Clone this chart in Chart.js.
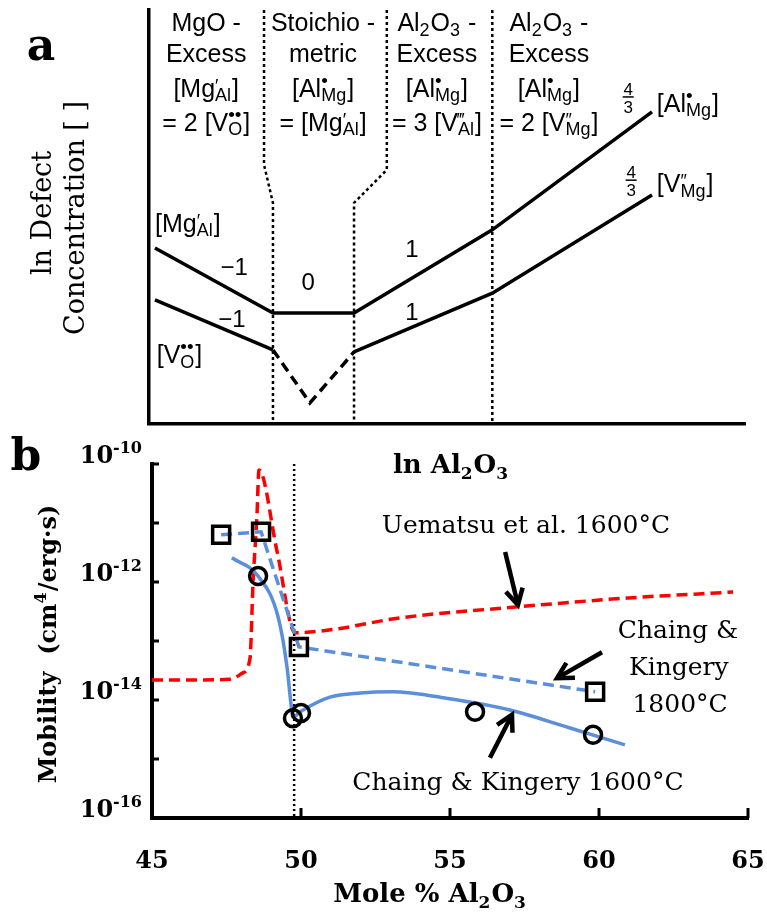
<!DOCTYPE html>
<html lang="en">
<head>
<meta charset="UTF-8">
<title>Spinel defect chemistry and mobility</title>
<script src="https://cdn.jsdelivr.net/npm/chart.js"></script>
<style>
  html, body { margin: 0; padding: 0; background: #fff; }
  .wrap { position: relative; width: 767px; height: 912px; }
  .wrap canvas { position: absolute; left: 0; top: 0; }
</style>
</head>
<body>
<div class="wrap">
  <canvas id="defectChart" width="767" height="912"></canvas>
  <canvas id="mobilityChart" width="767" height="912"></canvas>
</div>
<script>
// ---------- panel a: schematic defect diagram (arbitrary 0-100 units) ----------
const mgAlX = [1.0, 20.8, 34.4, 57.6, 84.4];
const mgAlY = [42.5, 26.8, 26.8, 46.9, 75.4];
const vOX = [1.0, 20.8, 27.0, 34.4, 57.6, 84.4];
const vOY = [30.0, 17.9, 5.1, 17.4, 31.6, 55.3];
const regionX = [[19.3, 19.3, 20.8, 20.8], [39.9, 39.9, 34.4, 34.4], [57.6, 57.6]];
const regionY = [[100, 62.6, 53.4, 0], [100, 61.4, 53.4, 0], [100, 0]];

// ---------- panel b: mobility vs composition (log10 of cm4/erg.s) ----------
const uematsuX = [45, 46.5, 47.6, 48.05, 48.29, 48.39, 48.52, 48.59, 49.2, 49.8, 51.0, 53.3, 57.3, 61.0, 64.5];
const uematsuLog = [-13.66, -13.66, -13.65, -13.54, -13.29, -12.02, -10.9, -10.1, -11.49, -12.86, -12.81, -12.61, -12.42, -12.27, -12.17];
const ck1800X = [47.32, 48.66, 49.93, 59.87];
const ck1800Log = [-11.20, -11.15, -13.10, -13.86];
const ck1600FitX = [47.68, 48.56, 49.23, 49.53, 49.66, 49.73, 49.97, 50.97, 52.0, 53.05, 55.0, 57.01, 59.0, 60.87];
const ck1600FitLog = [-11.59, -11.90, -12.59, -13.44, -14.05, -14.29, -14.20, -13.95, -13.88, -13.86, -13.98, -14.17, -14.47, -14.76];
const ck1600X = [48.56, 49.73, 50.00, 55.84, 59.80];
const ck1600Log = [-11.90, -14.31, -14.22, -14.20, -14.59];
const stoichX = 49.77;
const xTicks = [45, 50, 55, 60, 65];
const yDecades = [-10, -11, -12, -13, -14, -15, -16];
const yLabelDecades = [-10, -12, -14, -16];

const sansFamily = '"Liberation Sans", Arial, "DejaVu Sans", sans-serif';
const serifFamily = '"DejaVu Serif", serif';
const redColor = '#ff0000';
const blueColor = '#5b8fd9';

const pts = (xs, ys) => xs.map((x, i) => ({ x: x, y: ys[i] }));
const logPts = (xs, ls) => xs.map((x, i) => ({ x: x, y: Math.pow(10, ls[i]) }));

// ---------- rich text: plain strings or {b, sup, sub} stacked pieces ----------
function fontStr(f, size) { return (f.weight || 'normal') + ' ' + size + 'px ' + f.family; }
function supSize(f, s) { return /•/.test(s) ? f.small * 1.05 : f.small; }
function supRise(s) { return /•/.test(s) ? 0.4 : /[′″‴]/.test(s) ? 0.2 : 0.4; }
function measureRich(ctx, segs, f) {
  let w = 0;
  segs.forEach(s => {
    ctx.font = fontStr(f, f.size);
    if (typeof s === 'string') { w += ctx.measureText(s).width; return; }
    if (s.b) w += ctx.measureText(s.b).width;
    let a = 0, b = 0;
    if (s.sup) { ctx.font = fontStr(f, supSize(f, s.sup)); a = ctx.measureText(s.sup).width; }
    if (s.sub) { ctx.font = fontStr(f, f.small); b = ctx.measureText(s.sub).width; }
    w += Math.max(a, b) + 1;
  });
  return w;
}
function drawRich(ctx, segs, x, y, f, align) {
  const w = measureRich(ctx, segs, f);
  let cx = align === 'center' ? x - w / 2 : align === 'right' ? x - w : x;
  ctx.textAlign = 'left';
  ctx.textBaseline = 'alphabetic';
  ctx.fillStyle = '#000';
  segs.forEach(s => {
    ctx.font = fontStr(f, f.size);
    if (typeof s === 'string') { ctx.fillText(s, cx, y); cx += ctx.measureText(s).width; return; }
    if (s.b) { ctx.fillText(s.b, cx, y); cx += ctx.measureText(s.b).width; }
    let a = 0, b = 0;
    if (s.sup) {
      ctx.font = fontStr(f, supSize(f, s.sup));
      ctx.fillText(s.sup, cx, y - f.size * supRise(s.sup));
      a = ctx.measureText(s.sup).width;
    }
    if (s.sub) {
      ctx.font = fontStr(f, f.small);
      ctx.fillText(s.sub, cx, y + f.size * (f.subDrop || 0.18));
      b = ctx.measureText(s.sub).width;
    }
    cx += Math.max(a, b) + 1;
  });
}
function drawRotated(ctx, segs, x, y, f) {
  ctx.save();
  ctx.translate(x, y);
  ctx.rotate(-Math.PI / 2);
  drawRich(ctx, segs, 0, 0, f, 'center');
  ctx.restore();
}

// Kröger-Vink species
const spMgAl = { b: 'Mg', sup: '′', sub: 'Al' };
const spAlMg = { b: 'Al', sup: '•', sub: 'Mg' };
const spVO = { b: 'V', sup: '••', sub: 'O' };
const spVAl = { b: 'V', sup: '‴', sub: 'Al' };
const spVMg = { b: 'V', sup: '″', sub: 'Mg' };
const aluminaSegs = [{ b: 'Al', sub: '2' }, { b: 'O', sub: '3' }];

const fHead = { family: sansFamily, size: 25, small: 18 };
const fSlope = { family: sansFamily, size: 24, small: 17 };
const fTitleA = { family: serifFamily, size: 27, small: 18 };
const fBoldAxis = { family: serifFamily, size: 26, small: 17, weight: 'bold', subDrop: 0.24 };
const fTick = { family: serifFamily, size: 24, small: 16, weight: 'bold' };
const fNote = { family: serifFamily, size: 25, small: 17 };

const headerCols = [9.6, 29.2, 48.3, 67.1];
const headerRows = [94.9, 87.4, 79.0, 70.8];
const headerText = [
  [['MgO -'], ['Excess'], ['[', spMgAl, ']'], ['= 2 [', spVO, ']']],
  [['Stoichio -'], ['metric'], ['[', spAlMg, ']'], ['= [', spMgAl, ']']],
  [aluminaSegs.concat([' -']), ['Excess'], ['[', spAlMg, ']'], ['= 3 [', spVAl, ']']],
  [aluminaSegs.concat([' -']), ['Excess'], ['[', spAlMg, ']'], ['= 2 [', spVMg, ']']]
];
const slopeLabels = [
  { t: '−1', x: 14.3, y: 36.0 }, { t: '−1', x: 13.9, y: 23.4 }, { t: '0', x: 26.7, y: 32.4 },
  { t: '1', x: 44.1, y: 40.3 }, { t: '1', x: 44.1, y: 25.1 }
];
const speciesLabels = [
  { segs: ['[', spMgAl, ']'], x: 1.0, y: 46.4 }, { segs: ['[', spVO, ']'], x: 1.3, y: 14.7 },
  { segs: ['[', spAlMg, ']'], x: 85.2, y: 75.4 }, { segs: ['[', spVMg, ']'], x: 85.2, y: 56.0 }
];
const fractions = [{ x: 80.4, y: 79.0 }, { x: 80.9, y: 58.9 }];

const defectLabels = {
  id: 'defectLabels',
  afterDraw(chart) {
    const { ctx, chartArea: a, scales: { x, y } } = chart;
    const X = v => x.getPixelForValue(v), Y = v => y.getPixelForValue(v);
    ctx.save();
    headerCols.forEach((cx, i) => headerRows.forEach((ry, j) =>
      drawRich(ctx, headerText[i][j], X(cx), Y(ry), fHead, 'center')));
    slopeLabels.forEach(l => drawRich(ctx, [l.t], X(l.x), Y(l.y), fSlope, 'center'));
    speciesLabels.forEach(l => drawRich(ctx, l.segs, X(l.x), Y(l.y), fHead, 'left'));
    fractions.forEach(fr => {
      const fx = X(fr.x), fy = Y(fr.y);
      ctx.font = '17px ' + sansFamily;
      ctx.textAlign = 'center';
      ctx.fillText('4', fx, fy - 2);
      ctx.fillText('3', fx, fy + 16);
      ctx.fillRect(fx - 5.5, fy - 0.75, 11, 1.5);
    });
    // panel letter, axis titles
    ctx.font = 'bold 44px ' + serifFamily;
    ctx.textAlign = 'center';
    ctx.fillText('a', a.left - 108, a.top + 50);
    drawRotated(ctx, ['ln Defect'], a.left - 98, a.top + 203, fTitleA);
    drawRotated(ctx, ['Concentration [ ]'], a.left - 65, a.top + 208, fTitleA);
    drawRich(ctx, ['ln '].concat(aluminaSegs), (a.left + a.right) / 2 + 4, a.bottom + 49, fBoldAxis, 'center');
    ctx.restore();
  }
};

const hiddenAxis = (extra) => Object.assign({
  type: 'linear',
  ticks: { display: false },
  grid: { display: false, drawTicks: false },
  border: { display: true, color: '#000', width: 3.5 }
}, extra);

const chartA = new Chart(document.getElementById('defectChart'), {
  type: 'line',
  data: {
    datasets: [
      { data: pts(mgAlX, mgAlY), borderColor: '#000', borderWidth: 3.5 },
      {
        data: pts(vOX, vOY), borderColor: '#000', borderWidth: 3.5,
        segment: { borderDash: c => (c.p0DataIndex >= 1 && c.p0DataIndex < 3) ? [10, 6] : undefined }
      }
    ].concat(regionX.map((xs, i) => ({
      data: pts(xs, regionY[i]), borderColor: '#000', borderWidth: 2.5, borderDash: [3, 3]
    })))
  },
  options: {
    responsive: false,
    animation: false,
    devicePixelRatio: 1,
    layout: { padding: { left: 149, right: 22, top: 10, bottom: 488 } },
    elements: { point: { radius: 0 }, line: { tension: 0, fill: false, borderCapStyle: 'butt' } },
    plugins: { legend: { display: false }, tooltip: { enabled: false } },
    scales: { x: hiddenAxis({ min: 0, max: 100 }), y: hiddenAxis({ min: 0, max: 100 }) }
  },
  plugins: [defectLabels]
});

// ---------- panel b ----------
const arrows = [
  { from: [56.85, -11.49], to: [57.28, -12.39] },
  { from: [60.10, -13.19], to: [58.59, -13.63] },
  { from: [56.34, -14.98], to: [57.08, -14.25] }
];
const notes = [
  { segs: ['Uematsu et al. 1600°C'], x: 57.55, y: -11.17 },
  { segs: ['Chaing &'], x: 62.65, y: -12.95 },
  { segs: ['Kingery'], x: 62.68, y: -13.58 },
  { segs: ['1800°C'], x: 62.72, y: -14.20 },
  { segs: ['Chaing & Kingery 1600°C'], x: 57.28, y: -15.53 }
];

function drawArrow(ctx, x0, y0, x1, y1) {
  const ang = Math.atan2(y1 - y0, x1 - x0), len = 18, spread = 0.5;
  ctx.strokeStyle = '#000';
  ctx.lineWidth = 4.5;
  ctx.lineCap = 'butt';
  ctx.lineJoin = 'miter';
  ctx.beginPath();
  ctx.moveTo(x0, y0);
  ctx.lineTo(x1 - Math.cos(ang) * 3, y1 - Math.sin(ang) * 3);
  ctx.stroke();
  ctx.beginPath();
  ctx.moveTo(x1 - len * Math.cos(ang - spread), y1 - len * Math.sin(ang - spread));
  ctx.lineTo(x1, y1);
  ctx.lineTo(x1 - len * Math.cos(ang + spread), y1 - len * Math.sin(ang + spread));
  ctx.stroke();
}

const mobilityLabels = {
  id: 'mobilityLabels',
  afterDraw(chart) {
    const { ctx, chartArea: a, scales: { x, y } } = chart;
    const X = v => x.getPixelForValue(v), Y = v => y.getPixelForValue(Math.pow(10, v));
    ctx.save();
    ctx.fillStyle = '#000';
    ctx.strokeStyle = '#000';
    ctx.lineWidth = 3;
    // inward tick marks
    yDecades.forEach(d => {
      ctx.beginPath(); ctx.moveTo(a.left, Y(d)); ctx.lineTo(a.left + 7, Y(d)); ctx.stroke();
    });
    xTicks.forEach(t => {
      ctx.beginPath(); ctx.moveTo(X(t), a.bottom); ctx.lineTo(X(t), a.bottom - 10); ctx.stroke();
    });
    yLabelDecades.forEach(d => drawRich(ctx, ['10', { sup: '-' + Math.abs(d) }], a.left - 9, Y(d) - 1, fTick, 'right'));
    xTicks.forEach(t => drawRich(ctx, [String(t)], X(t), a.bottom + 50, fTick, 'center'));
    drawRich(ctx, ['Mole % '].concat(aluminaSegs), X(54.33), a.bottom + 84, fBoldAxis, 'center');
    drawRotated(ctx, ['Mobility  ', { b: '(cm', sup: '4' }, '/erg·s)'], a.left - 96, a.top + 180,
      { family: serifFamily, size: 24, small: 16, weight: 'bold' });
    ctx.font = 'bold 44px ' + serifFamily;
    ctx.textAlign = 'center';
    ctx.fillText('b', a.left - 126, a.top + 6);
    notes.forEach(n => drawRich(ctx, n.segs, X(n.x), Y(n.y), fNote, 'center'));
    arrows.forEach(ar => drawArrow(ctx, X(ar.from[0]), Y(ar.from[1]), X(ar.to[0]), Y(ar.to[1])));
    ctx.restore();
  }
};

const chartB = new Chart(document.getElementById('mobilityChart'), {
  type: 'line',
  data: {
    datasets: [
      {
        label: 'Chaing & Kingery 1800°C data', data: logPts(ck1800X, ck1800Log), showLine: false,
        pointStyle: 'rect', pointRadius: 12, borderColor: '#000', backgroundColor: 'rgba(0,0,0,0)', pointBorderWidth: 3.5
      },
      {
        label: 'Chaing & Kingery 1600°C data', data: logPts(ck1600X, ck1600Log), showLine: false,
        pointStyle: 'circle', pointRadius: 8.5, borderColor: '#000', backgroundColor: 'rgba(0,0,0,0)', pointBorderWidth: 3.5
      },
      {
        label: 'Chaing & Kingery 1800°C', data: logPts(ck1800X, ck1800Log), borderColor: blueColor,
        borderWidth: 3.5, borderDash: [11, 6], pointRadius: 0, tension: 0
      },
      {
        label: 'Chaing & Kingery 1600°C', data: logPts(ck1600FitX, ck1600FitLog), borderColor: blueColor,
        borderWidth: 3.5, pointRadius: 0, cubicInterpolationMode: 'monotone'
      },
      {
        label: 'Uematsu et al. 1600°C', data: logPts(uematsuX, uematsuLog), borderColor: redColor,
        borderWidth: 3.5, borderDash: [11, 6], pointRadius: 0, cubicInterpolationMode: 'monotone'
      },
      {
        label: 'stoichiometric', data: logPts([stoichX, stoichX], [-10, -16]), borderColor: '#000',
        borderWidth: 2.5, borderDash: [2, 3], pointRadius: 0
      }
    ]
  },
  options: {
    responsive: false,
    animation: false,
    devicePixelRatio: 1,
    layout: { padding: { left: 152, right: 19, top: 464, bottom: 94 } },
    elements: { line: { fill: false, borderCapStyle: 'butt' } },
    plugins: { legend: { display: false }, tooltip: { enabled: false } },
    scales: {
      x: hiddenAxis({ min: 45, max: 65, border: { display: true, color: '#000', width: 4 } }),
      y: hiddenAxis({ type: 'logarithmic', min: 1e-16, max: 1e-10, border: { display: true, color: '#000', width: 4 } })
    }
  },
  plugins: [mobilityLabels]
});
</script>
</body>
</html>
